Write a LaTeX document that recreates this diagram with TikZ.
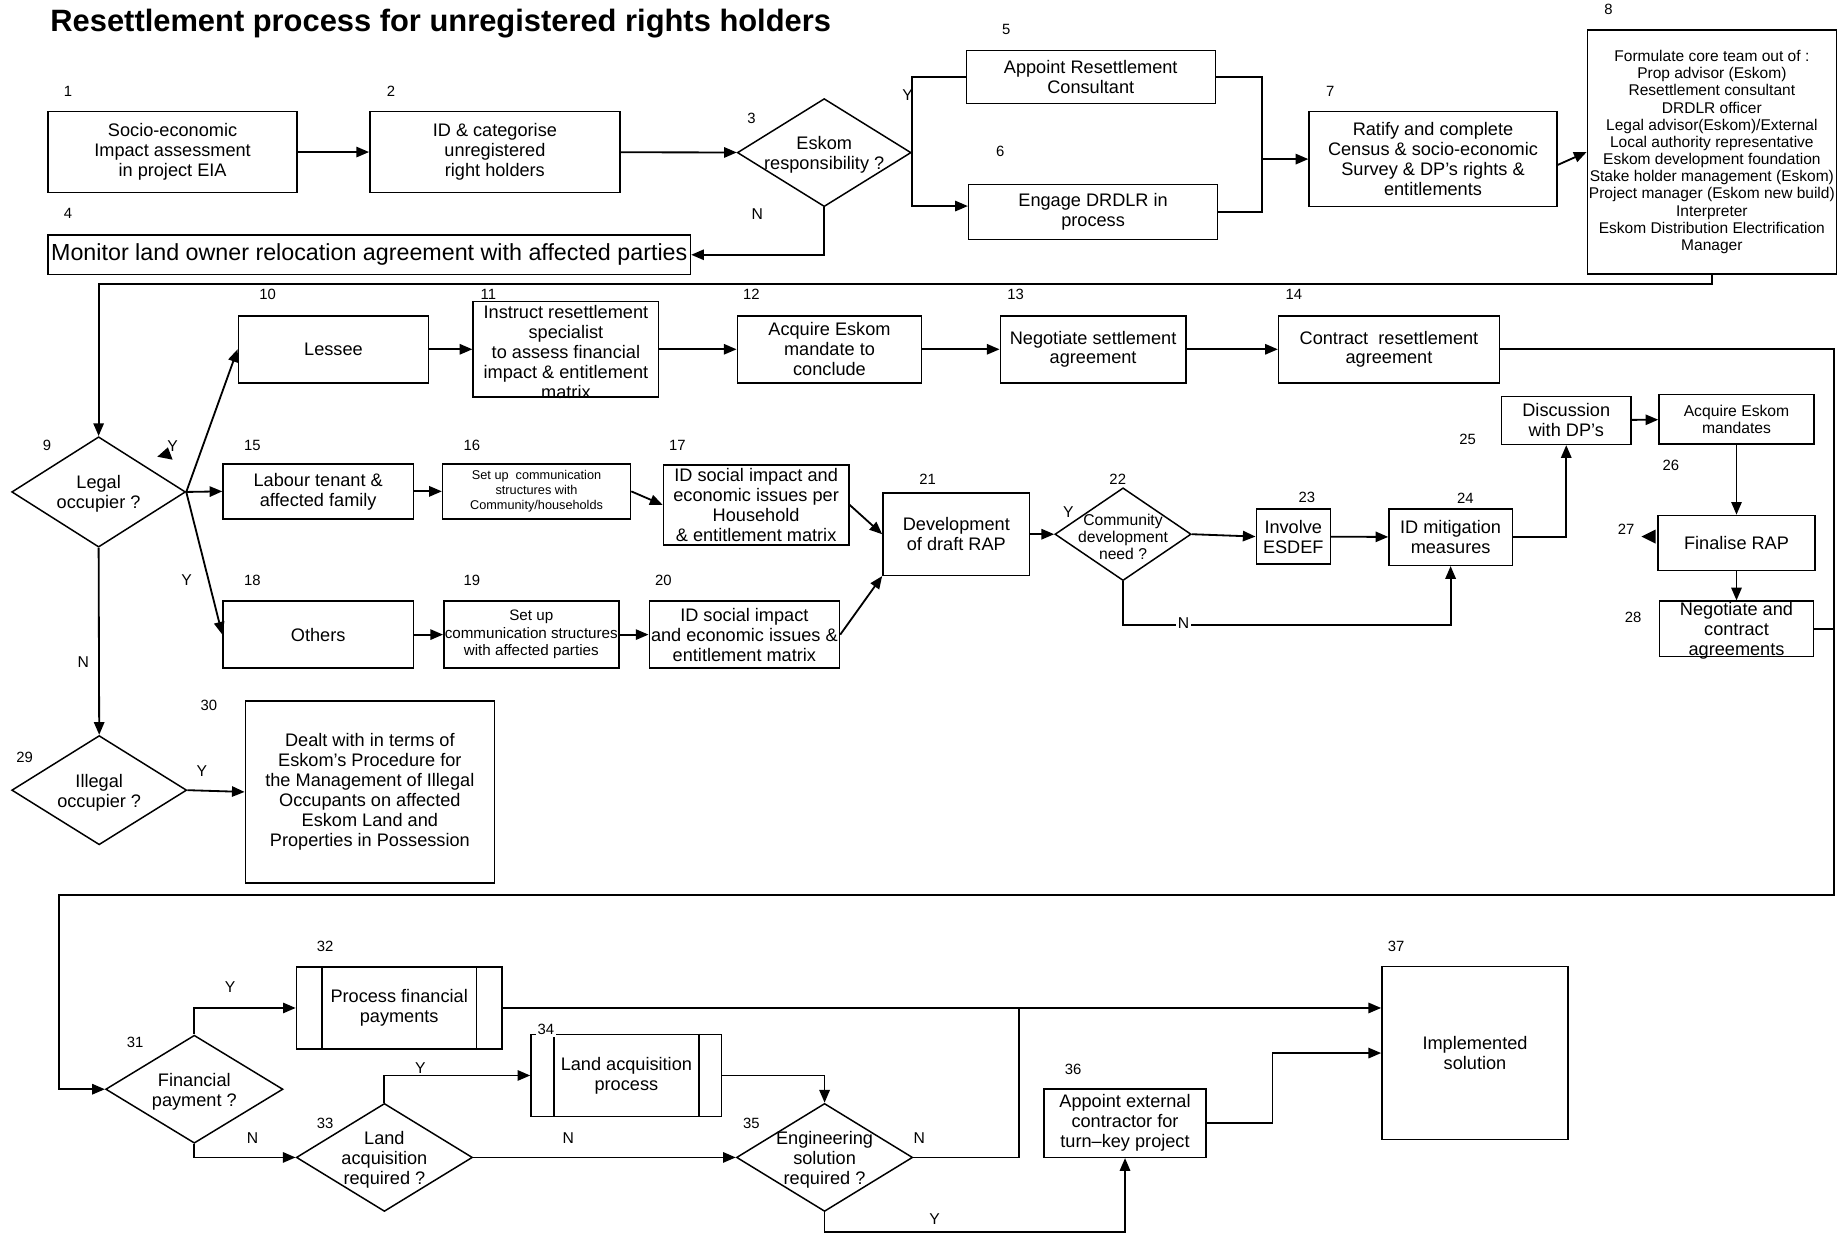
\documentclass[tikz,border=0pt]{standalone}
\usepackage{fontspec}
\setmainfont{Liberation Sans}
\usepackage{tikz}
\usetikzlibrary{arrows.meta, calc, shapes.geometric}

\begin{document}
\begin{tikzpicture}[
  x=0.025cm, y=-0.025cm,
  box/.style={draw, line width=0.9pt, inner sep=0.5pt, align=center, font=\fontsize{11}{12.1}\selectfont},
  decision/.style={draw, diamond, line width=0.9pt, inner sep=0pt},
  dtext/.style={align=center, inner sep=0pt, yshift=-1.4pt, font=\fontsize{11}{12.1}\selectfont},
  num/.style={inner sep=1pt, font=\fontsize{9}{10}\selectfont},
  yn/.style={inner sep=1pt, font=\fontsize{9.5}{10}\selectfont},
  arrow/.style={-{Triangle[length=0.27cm,width=0.22cm]}, line width=1.1pt},
  link/.style={line width=1.1pt}
]
\useasboundingbox (0,0) rectangle (1568,1051);

\node[anchor=base west, font=\bfseries\fontsize{18.7}{22}\selectfont] (title) at (38,27) {Resettlement process for unregistered rights holders};

% Nodes
\node[box, minimum width=5.3cm, minimum height=1.725cm] (n1) at (147,129.5) {Socio-economic\\Impact assessment\\in project EIA};
\node[box, minimum width=5.325cm, minimum height=1.725cm] (n2) at (421.5,129.5) {ID \& categorise\\unregistered\\right holders};
\node[decision, minimum width=3.7cm, minimum height=2.3cm] (n3) at (702,130) {};
\node[dtext] (t3) at (n3) {Eskom\\responsibility ?};
\node[box, minimum width=13.675cm, minimum height=0.85cm, font=\fontsize{14.1}{16}\selectfont] (n4) at (314.5,217) {Monitor land owner relocation agreement with affected parties};
\node[box, minimum width=5.3cm, minimum height=1.125cm] (n5) at (929,65.5) {Appoint Resettlement\\Consultant};
\node[box, minimum width=5.3cm, minimum height=1.175cm] (n6) at (931,180.5) {Engage DRDLR in\\process};
\node[box, minimum width=5.275cm, minimum height=2.025cm] (n7) at (1220.5,135.5) {Ratify and complete\\Census \& socio-economic\\Survey \& DP’s rights \&\\entitlements};
\node[box, inner sep=0pt, minimum width=5.3cm, minimum height=5.2cm, font=\fontsize{9.4}{10.4}\selectfont] (n8) at (1458,129.5) {Formulate core team out of :\\Prop advisor (Eskom)\\Resettlement consultant\\DRDLR officer\\Legal advisor(Eskom)/External\\Local authority representative\\Eskom development foundation\\Stake holder management (Eskom)\\Project manager (Eskom new build)\\Interpreter\\Eskom Distribution Electrification\\Manager};

\node[decision, minimum width=3.7cm, minimum height=2.35cm] (n9) at (84,419) {};
\node[dtext] (t9) at (n9) {Legal\\occupier ?};
\node[box, minimum width=4.05cm, minimum height=1.425cm] (n10) at (284,297.5) {Lessee};
\node[box, minimum width=3.95cm, minimum height=2.025cm] (n11) at (482,297.5) {};
\node[dtext] (t11) at (n11) {Instruct resettlement\\specialist\\to assess financial\\impact \& entitlement\\matrix};
\node[box, minimum width=3.925cm, minimum height=1.425cm] (n12) at (706.5,297.5) {Acquire Eskom\\mandate to\\conclude};
\node[box, minimum width=3.95cm, minimum height=1.425cm] (n13) at (931,297.5) {Negotiate settlement\\agreement};
\node[box, minimum width=4.7cm, minimum height=1.425cm] (n14) at (1183,297.5) {Contract\ \ resettlement\\agreement};

\node[box, minimum width=4.05cm, minimum height=1.175cm] (n15) at (271,418.5) {Labour tenant \&\\affected family};
\node[box, minimum width=4cm, minimum height=1.175cm, font=\fontsize{7.7}{8.9}\selectfont] (n16) at (457,418.5) {Set up\ \ communication\\structures with\\Community/households};
\node[box, minimum width=3.95cm, minimum height=1.7cm] (n17) at (644,430) {ID social impact and\\economic issues per\\Household\\\& entitlement matrix};
\node[box, minimum width=4.05cm, minimum height=1.425cm] (n18) at (271,540.5) {Others};
\node[box, inner sep=0pt, minimum width=3.725cm, minimum height=1.425cm, font=\fontsize{9.2}{10.6}\selectfont] (n19) at (452.5,540.5) {Set up\\communication structures\\with affected parties};
\node[box, minimum width=4.05cm, minimum height=1.425cm] (n20) at (634,540.5) {ID social impact\\and economic issues \&\\entitlement matrix};
\node[box, minimum width=3.125cm, minimum height=1.75cm] (n21) at (814.5,455) {Development\\of draft RAP};
\node[decision, minimum width=2.9cm, minimum height=1.975cm] (n22) at (956.5,455) {};
\node[dtext, font=\fontsize{9.5}{10.3}\selectfont] (t22) at (n22) {Community\\development\\need ?};
\node[box, minimum width=1.575cm, minimum height=1.175cm] (n23) at (1101.5,457) {Involve\\ESDEF};
\node[box, minimum width=2.625cm, minimum height=1.2cm] (n24) at (1235.5,457.5) {ID mitigation\\measures};
\node[box, minimum width=2.75cm, minimum height=1.025cm] (n25) at (1334,358) {Discussion\\with DP’s};
\node[box, minimum width=3.3cm, minimum height=1.05cm, font=\fontsize{9.5}{10}\selectfont] (n26) at (1479,357) {Acquire Eskom\\mandates};
\node[box, minimum width=3.35cm, minimum height=1.175cm] (n27) at (1479,462.5) {Finalise RAP};
\node[box, minimum width=3.275cm, minimum height=1.175cm] (n28) at (1479,535.5) {};
\node[dtext] (t28) at (n28) {Negotiate and\\contract\\agreements};

\node[decision, minimum width=3.725cm, minimum height=2.325cm] (n29) at (84.5,673) {};
\node[dtext] (t29) at (n29) {Illegal\\occupier ?};
\node[box, minimum width=5.3cm, minimum height=3.875cm] (n30) at (315,674.5) {Dealt with in terms of\\Eskom’s Procedure for\\the Management of Illegal\\Occupants on affected\\Eskom Land and\\Properties in Possession};

\node[decision, minimum width=3.775cm, minimum height=2.3cm] (n31) at (165.5,927.7) {};
\node[dtext] (t31) at (n31) {Financial\\payment ?};
\node[box, minimum width=4.375cm, minimum height=1.75cm] (n32) at (340,858.5) {Process financial\\payments};
\draw[line width=0.9pt] ($(n32.north west)+(22.5,0)$) -- ($(n32.south west)+(22.5,0)$);
\draw[line width=0.9pt] ($(n32.north east)+(-22.5,0)$) -- ($(n32.south east)+(-22.5,0)$);
\node[decision, minimum width=3.75cm, minimum height=2.3cm] (n33) at (327.4,985.8) {};
\node[dtext] (t33) at (n33) {Land\\acquisition\\required ?};
\node[box, minimum width=4.06cm, minimum height=1.75cm] (n34) at (533.5,916) {Land acquisition\\process};
\draw[line width=0.9pt] ($(n34.north west)+(20,0)$) -- ($(n34.south west)+(20,0)$);
\draw[line width=0.9pt] ($(n34.north east)+(-20,0)$) -- ($(n34.south east)+(-20,0)$);
\node[decision, minimum width=3.75cm, minimum height=2.3cm] (n35) at (702.3,985.8) {};
\node[dtext] (t35) at (n35) {Engineering\\solution\\required ?};
\node[box, minimum width=3.45cm, minimum height=1.45cm] (n36) at (958.2,956.7) {Appoint external\\contractor for\\turn--key project};
\node[box, minimum width=3.965cm, minimum height=3.675cm] (n37) at (1256.3,896.9) {Implemented\\solution};

% Step numbers
\foreach \k/\px/\py in {1/58/78, 2/333/78, 3/640/101, 4/58/182, 5/857/25, 6/852/129, 7/1133/78, 8/1370/8,
  9/40/379, 10/228/251, 11/416/251, 12/640/251, 13/865/251, 14/1102/251, 15/215/379, 16/402/379,
  17/577/379, 18/215/494, 19/402/494, 20/565/494, 21/790/408, 22/952/408, 23/1113/424, 24/1248/424,
  25/1250/374, 26/1423/396, 27/1385/451, 28/1391/526, 29/21/645, 30/178/601, 31/115/888, 32/277/806,
  33/277/957, 35/640/957, 36/914/911, 37/1189/806}
  \node[num] (l\k) at (\px,\py) {\k};
\node[num, fill=white] (l34) at (465,877) {34};

% Junctions
\coordinate (j7) at (1075,135.5);
\coordinate (c89) at (84,242);
\coordinate (r1) at (1562,762);
\coordinate (r2) at (50,762);
\coordinate (c22) at (956.5,532);
\coordinate (c35) at (868,858.5);
\coordinate (c36) at (702.3,1049);

% Pointers
\draw[arrow] (n1) -- (n2);
\draw[arrow] (n2) -- (n3);
\draw[link] (n3.east) |- (n5.west);
\draw[arrow] (n3.east) |- ($(n6.west)+(0,-5)$);
\draw[arrow] (n3.south) |- (n4.east);
\draw[link] (n5.east) -| (j7);
\draw[link] (n6.east) -| (j7);
\draw[arrow] (j7) -- (n7.west);
\draw[arrow] ($(n7.east)+(0,5)$) -- (n8.west);
\draw[arrow] (n8.south) |- (c89) -- (n9.north);

\draw[arrow] (n9.east) -- (n10.west);
\draw[arrow] (n9.east) -- (n15.west);
\draw[arrow] (n9.east) -- (n18.west);
\draw[arrow] (n10) -- (n11);
\draw[arrow] (n11) -- (n12);
\draw[arrow] (n12) -- (n13);
\draw[arrow] (n13) -- (n14);
\draw[arrow] (n14.east) -| (r1) -- (r2) |- (n31.west);

\draw[arrow] (n15) -- (n16);
\draw[arrow] (n16.east) -- (n17.west);
\draw[arrow] (n17.east) -- (n21.west);
\draw[arrow] (n18) -- (n19);
\draw[arrow] (n19) -- (n20);
\draw[arrow] (n20.east) -- (n21.south west);
\draw[arrow] (n21) -- (n22);
\draw[arrow] (n22.east) -- (n23.west);
\draw[arrow] (n23) -- (n24);
\draw[arrow] (n22.south) -- (c22) -| (n24.south);
\draw[arrow] (n24.east) -| (n25.south);
\draw[arrow] (n25) -- (n26);
\draw[arrow] (n26) -- (n27);
\draw[arrow] (n27) -- (n28);
\draw[link] (n28.east) -- (n28.east -| r1);

\draw[arrow] (n9.south) -- (n29.north);
\draw[arrow] (n29.east) -- (n30.west);

\draw[arrow] (n31.north) |- (n32.west);
\draw[arrow] (n31.south) |- (n33.west);
\draw[arrow] (n33.north) |- (n34.west);
\draw[arrow] (n33.east) -- (n35.west);
\draw[arrow] (n34.east) -| (n35.north);
\draw[arrow] (n32.east) -- (n32.east -| n37.west);
\draw[link] (n35.east) -| (c35);
\draw[arrow] (n35.south) -- (c36) -| (n36.south);
\draw[arrow] (n36.east) -- ++(56,0) |- (n37.west);

% stray tips
\fill (134,389) -- (147,391.5) -- (143,381) -- cycle;
\fill (1398,457) -- (1410,451) -- (1410,463) -- cycle;

% Y / N
\node[yn] (y3) at (773,81) {Y};
\node[yn] (no3) at (645,182) {N};
\node[yn] (y9a) at (147,380) {Y};
\node[yn] (y9b) at (159,494) {Y};
\node[yn] (no9) at (71,564) {N};
\node[yn] (y29) at (172,657) {Y};
\node[yn] (y22) at (910,436) {Y};
\node[yn, fill=white] (no22) at (1008,531) {N};
\node[yn] (y31) at (196,841) {Y};
\node[yn] (no31) at (215,969) {N};
\node[yn] (y33) at (358,910) {Y};
\node[yn] (no33) at (484,969) {N};
\node[yn] (no35) at (783,969) {N};
\node[yn] (y35) at (796,1038) {Y};
\end{tikzpicture}
\end{document}
